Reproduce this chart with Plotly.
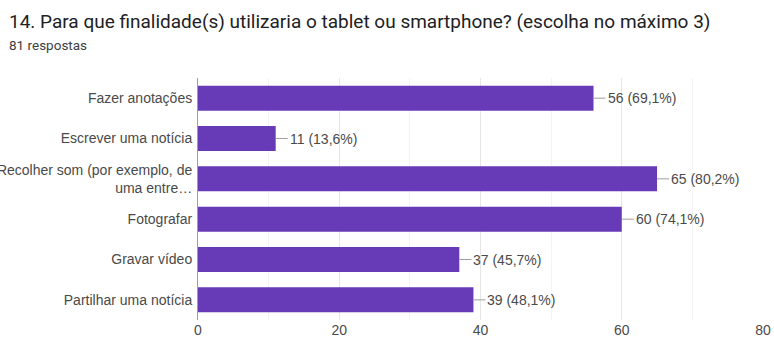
import plotly.graph_objects as go

categories = [
    "Fazer anotações",
    "Escrever uma notícia",
    "Recolher som (por exemplo, de<br>uma entre…",
    "Fotografar",
    "Gravar vídeo",
    "Partilhar uma notícia",
]
counts = [56, 11, 65, 60, 37, 39]
percents = ["69,1%", "13,6%", "80,2%", "74,1%", "45,7%", "48,1%"]
x_ticks = [0, 20, 40, 60, 80]

BAR = "#673ab7"
TXT = "#4a4a4a"
SANS = "Liberation Sans, Arial, sans-serif"

fig = go.Figure()
fig.add_trace(go.Bar(
    x=counts, y=categories, orientation="h",
    marker=dict(color=BAR, line=dict(width=0)),
    hoverinfo="skip",
))

# value labels with short leader lines
for c, cat, p in zip(counts, categories, percents):
    fig.add_annotation(
        x=c, y=cat, xref="x", yref="y",
        text=f"{c} ({p})",
        showarrow=True, arrowhead=0, arrowwidth=1, arrowcolor="#9e9e9e",
        ax=12, ay=0, xanchor="left", yanchor="middle",
        standoff=0, startstandoff=0,
        font=dict(family=SANS, size=14, color=TXT),
    )

fig.add_annotation(
    text="14. Para que finalidade(s) utilizaria o tablet ou smartphone? (escolha no máximo 3)",
    xref="paper", yref="paper", x=0, y=1,
    xshift=-191, yshift=57, xanchor="left", yanchor="middle",
    showarrow=False,
    font=dict(family="Roboto, sans-serif", size=19, color="#202124"),
)
fig.add_annotation(
    text="81 respostas",
    xref="paper", yref="paper", x=0, y=1,
    xshift=-191, yshift=33, xanchor="left", yanchor="middle",
    showarrow=False,
    font=dict(family="Roboto, sans-serif", size=13.5, color="#3c4043"),
)

fig.update_layout(
    width=774, height=343,
    margin=dict(l=198, r=11, t=78, b=23),
    paper_bgcolor="white", plot_bgcolor="white",
    showlegend=False, bargap=0.38,
    font=dict(family=SANS, size=14, color=TXT),
    xaxis=dict(
        range=[0, 80], tickvals=x_ticks, ticktext=[str(v) for v in x_ticks],
        showgrid=True, gridcolor="#e6e6e6", gridwidth=1,
        minor=dict(dtick=10, tick0=0, showgrid=True, gridcolor="#f3f3f3"),
        zeroline=False, showline=False, ticks="",
        tickfont=dict(size=14, color=TXT), automargin=False,
    ),
    yaxis=dict(
        autorange="reversed", showgrid=False, zeroline=False,
        showline=True, linecolor="#9e9e9e", linewidth=1, ticks="",
        tickfont=dict(size=14, color=TXT), automargin=False,
        ticklabelstandoff=2,
    ),
)

fig.write_html("out.html")
